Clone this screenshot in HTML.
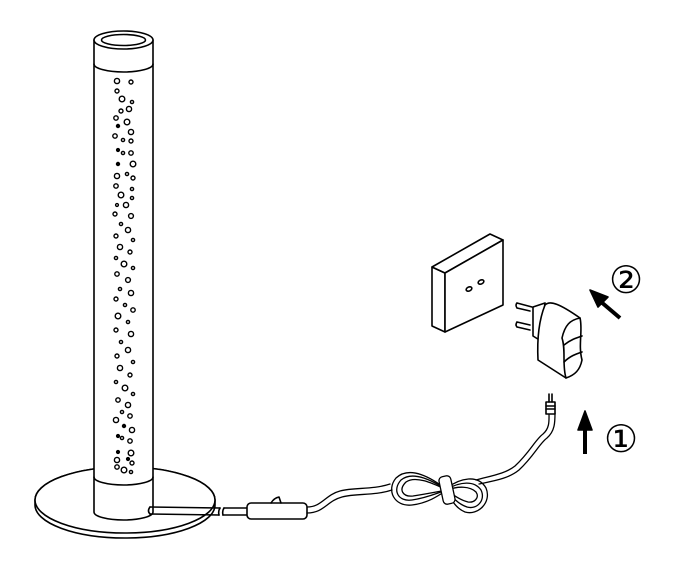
<!DOCTYPE html>
<html><head><meta charset="utf-8"><style>html,body{margin:0;padding:0;background:#fff}svg{display:block}</style></head>
<body>
<svg width="677" height="582" viewBox="0 0 677 582" xmlns="http://www.w3.org/2000/svg" fill="none" stroke="#000" stroke-width="1.6" stroke-linejoin="round" stroke-linecap="round">
<!-- base -->
<path d="M35 505 A90 33 0 0 0 215 505 L215 500 A90 33 0 0 0 35 500 Z" fill="#fff"/>
<ellipse cx="125" cy="500" rx="90" ry="33" fill="#fff"/>
<!-- tube -->
<path d="M94 40 L94 512 A29.5 8 0 0 0 153 512 L153 40" fill="#fff"/>
<ellipse cx="123.5" cy="40" rx="29.5" ry="9" fill="#fff"/>
<ellipse cx="123.5" cy="40" rx="22" ry="5.5"/>
<path d="M94 64 A29.5 8 0 0 0 153 64"/>
<path d="M94 477 A29.5 8 0 0 0 153 477"/>
<!-- bubbles -->
<g stroke-width="1.4">
<circle cx="117" cy="81" r="2.6"/><circle cx="131" cy="82" r="2"/><circle cx="117" cy="91" r="2"/><circle cx="122" cy="99" r="2.8"/><circle cx="132" cy="102" r="1.6"/>
<circle cx="129" cy="109" r="2.6"/><circle cx="121" cy="111" r="2"/><circle cx="116" cy="118" r="2.2"/><circle cx="127" cy="122" r="2.8"/><circle cx="118" cy="126" r="1.5" fill="#000"/>
<circle cx="131" cy="132" r="2.6"/><circle cx="115" cy="136" r="2.2"/><circle cx="123" cy="140" r="1.6"/><circle cx="131" cy="141" r="2"/><circle cx="118" cy="150" r="1.4" fill="#000"/>
<circle cx="123" cy="153" r="1.6"/><circle cx="131" cy="153" r="2.2"/><circle cx="118" cy="164" r="1.5" fill="#000"/><circle cx="133" cy="164" r="2.8"/><circle cx="117" cy="176" r="2.6"/>
<circle cx="127" cy="174" r="1.6"/><circle cx="133" cy="178" r="2"/><circle cx="116" cy="186" r="2.2"/><circle cx="132" cy="189" r="1.6"/><circle cx="121" cy="195" r="2.8"/>
<circle cx="132" cy="198" r="1.6"/><circle cx="117" cy="205" r="1.4"/><circle cx="126" cy="205" r="2.6"/><circle cx="115" cy="214" r="2"/><circle cx="131" cy="216" r="2.4"/>
<circle cx="121" cy="224" r="1.6"/><circle cx="128" cy="230" r="2.6"/><circle cx="116" cy="236" r="2"/><circle cx="133" cy="240" r="1.6"/><circle cx="120" cy="247" r="2.6"/>
<circle cx="130" cy="252" r="2"/><circle cx="116" cy="258" r="1.6"/><circle cx="124" cy="264" r="2.8"/><circle cx="133" cy="268" r="1.6"/><circle cx="117" cy="274" r="2.2"/>
<circle cx="128" cy="280" r="2.4"/><circle cx="120" cy="289" r="1.6"/><circle cx="131" cy="293" r="2.6"/><circle cx="116" cy="299" r="2"/><circle cx="125" cy="305" r="1.6"/>
<circle cx="133" cy="310" r="2.2"/><circle cx="118" cy="316" r="2.8"/><circle cx="128" cy="322" r="1.6"/><circle cx="116" cy="330" r="2"/><circle cx="131" cy="334" r="2.6"/>
<circle cx="121" cy="342" r="1.6"/><circle cx="128" cy="350" r="2.6"/><circle cx="117" cy="356" r="2"/><circle cx="133" cy="362" r="1.6"/><circle cx="120" cy="368" r="2.6"/>
<circle cx="130" cy="375" r="2"/><circle cx="116" cy="382" r="1.6"/><circle cx="125" cy="388" r="2.8"/><circle cx="133" cy="394" r="1.6"/><circle cx="118" cy="400" r="2.2"/>
<circle cx="128" cy="405" r="2.6"/><circle cx="122" cy="412" r="1.6"/><circle cx="130" cy="416" r="2.2"/><circle cx="116" cy="420" r="2.6"/><circle cx="124" cy="426" r="1.5" fill="#000"/>
<circle cx="132" cy="430" r="2.6"/><circle cx="118" cy="436" r="1.4" fill="#000"/><circle cx="122" cy="438" r="1.6"/><circle cx="130" cy="441" r="2.2"/><circle cx="118" cy="452" r="1.4" fill="#000"/>
<circle cx="131" cy="453" r="2.8"/><circle cx="117" cy="460" r="2.6"/><circle cx="128" cy="459" r="1.4" fill="#000"/><circle cx="132" cy="463" r="2"/><circle cx="117" cy="467" r="2.2"/><circle cx="124" cy="470" r="2.8"/><circle cx="131" cy="472" r="1.6"/>
</g>
<!-- cord from base -->
<path d="M150 507 L220 508 M150 514 L219 515"/>
<path d="M150 507 Q147 511 150 514"/>
<path d="M220 508 q-2 3 -1 7 M224 508 q-2 3 -1 7"/>
<path d="M224 508 L247 508 M223 515 L247 515"/>
<rect x="247" y="503" width="60" height="16" rx="4" fill="#fff"/>
<path d="M271 503 q3 -5 8 -6 l2 6"/>
<!-- wavy cord -->
<g stroke-width="1.3">
<path d="M307 507 C322 507 325 495 340 491 C355 487 372 490 390 484"/>
<path d="M307 513 C324 513 327 501 342 497 C357 493 374 496 392 490"/>
<!-- left loop -->
<path d="M447 490 C432 478 410 465 396 478 C386 490 394 507 412 505 C428 503 438 496 447 490"/>
<path d="M447 490 C433 481 413 470 401 480 C392 490 398 502 412 500 C427 498 437 493 447 490"/>
<path d="M447 490 C434 484 416 475 406 482 C398 490 403 497 413 496 C426 494 436 492 447 490"/>
<!-- right loop -->
<path d="M447 488 C460 478 478 474 486 488 C492 502 478 516 465 512 C455 508 450 498 447 490"/>
<path d="M447 489 C460 482 474 480 481 490 C486 500 477 510 467 507 C458 504 452 497 447 490"/>
<path d="M447 490 C458 486 470 486 476 492 C480 498 474 503 468 502 C460 500 453 495 447 490"/>
<rect x="441" y="476" width="12" height="28" rx="4" transform="rotate(-12 447 490)" fill="#fff"/>
<!-- cord up to plug -->
<path d="M476 480 C490 476 505 474 515 466 C530 452 535 440 543 434 C550 428 549 420 549 413"/>
<path d="M479 484 C493 481 508 479 519 470 C534 456 539 444 547 438 C555 431 555 422 555 413"/>
</g>
<!-- plug end -->
<rect x="546" y="402" width="9" height="12" fill="#fff"/>
<path d="M546 406 H555 M546 409 H555"/>
<path d="M549 402 V394 M552 402 V394"/>
<!-- arrow 1 -->
<path d="M585 454 V428" stroke-width="4" stroke-linecap="butt"/>
<path d="M578 430 L585 411 L592 430 Z" fill="#000"/>
<text x="604" y="452" font-family="Liberation Serif, serif" font-size="38" fill="#000" stroke="none">①</text>
<!-- wall plate -->
<path d="M432 267 L445 273 L445 332 L432 326 Z" fill="#fff"/>
<path d="M432 267 L490 234 L503 240 L445 273 Z" fill="#fff"/>
<path d="M445 273 L503 240 L503 305 L445 332 Z" fill="#fff"/>
<ellipse cx="469" cy="289" rx="3" ry="2" transform="rotate(-25 469 289)"/>
<ellipse cx="481" cy="282" rx="3" ry="2" transform="rotate(-25 481 282)"/>
<!-- adapter -->
<path d="M517 303 L532 307 M517 308 L530 311 M517 303 Q515 305 517 308"/>
<path d="M517 322 L530 325 M517 327 L530 330 M517 322 Q515 325 517 327"/>
<path d="M533 307 L545 303 L541 341 L533 336 Z" fill="#fff"/>
<path d="M545 305 C550 300 560 304 580 318 C583 330 578 345 582 360 C580 370 575 375 566 378 L538 360 C537 340 539 320 545 305 Z" fill="#fff"/>
<path d="M566 378 C562 365 566 350 562 338 C565 325 570 320 580 318"/>
<path d="M564 345 C570 340 576 338 582 336 M564 362 C570 356 576 354 582 352"/>
<!-- arrow 2 -->
<path d="M620 318 L600 301" stroke-width="4" stroke-linecap="butt"/>
<path d="M590 290 L608 297 L598 307 Z" fill="#000"/>
<text x="609" y="293" font-family="Liberation Serif, serif" font-size="38" fill="#000" stroke="none">②</text>
</svg>
</body></html>
